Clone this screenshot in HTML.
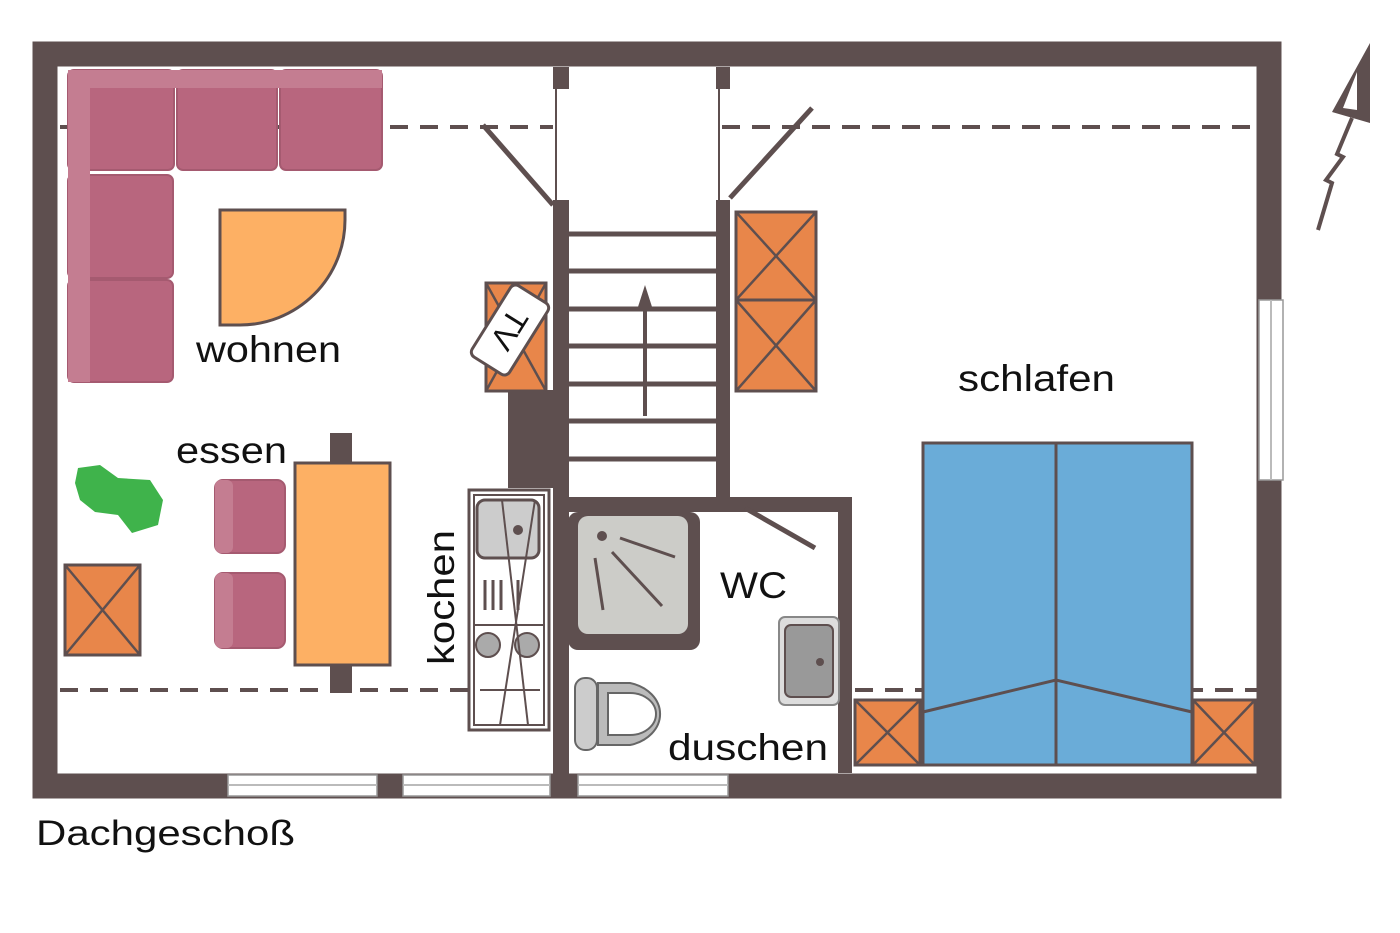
<!DOCTYPE html>
<html><head><meta charset="utf-8"><style>
html,body{margin:0;padding:0;background:#fff;}
svg{display:block;}
text{font-family:"Liberation Sans",sans-serif;fill:#111;}
</style></head><body>
<svg width="1400" height="933" viewBox="0 0 1400 933" xmlns="http://www.w3.org/2000/svg">
<!-- outer walls -->
<rect x="45" y="54" width="1224" height="732" fill="none" stroke="#5e4f4f" stroke-width="25"/>
<!-- bottom windows -->
<g fill="#fff" stroke="#999" stroke-width="1.5">
<rect x="228" y="775" width="149" height="21"/>
<rect x="403" y="775" width="147" height="21"/>
<rect x="578" y="775" width="150" height="21"/>
</g>
<g stroke="#bbb" stroke-width="2"><line x1="228" y1="785" x2="377" y2="785"/><line x1="403" y1="785" x2="550" y2="785"/><line x1="578" y1="785" x2="728" y2="785"/></g>
<!-- right window -->
<rect x="1259" y="300" width="24" height="180" fill="#fff" stroke="#999" stroke-width="1.5"/>
<line x1="1271" y1="300" x2="1271" y2="480" stroke="#bbb" stroke-width="2"/>
<!-- dashed lines -->
<g stroke="#5e4f4f" stroke-width="4" stroke-dasharray="18,12">
<line x1="60" y1="127" x2="553" y2="127"/>
<line x1="722" y1="127" x2="1257" y2="127"/>
<line x1="60" y1="690" x2="468" y2="690"/>
<line x1="855" y1="690" x2="1257" y2="690"/>
</g>
<!-- stair walls -->
<g fill="#5e4f4f">
<rect x="553" y="67" width="16" height="22"/>
<rect x="716" y="67" width="14" height="22"/>
<rect x="553" y="200" width="16" height="598"/>
<rect x="716" y="200" width="14" height="297"/>
<rect x="508" y="390" width="46" height="98"/>
<rect x="553" y="497" width="299" height="15"/>
<rect x="838" y="497" width="14" height="276"/>
</g>
<g stroke="#5e4f4f" stroke-width="2"><line x1="556" y1="89" x2="556" y2="200"/><line x1="719" y1="89" x2="719" y2="200"/></g>
<!-- door swings -->
<g stroke="#5e4f4f" stroke-width="5">
<line x1="483" y1="125" x2="553" y2="205"/>
<line x1="812" y1="108" x2="730" y2="198"/>
<line x1="745" y1="508" x2="815" y2="548"/>
</g>
<!-- stair treads -->
<g stroke="#5e4f4f" stroke-width="5">
<line x1="569" y1="234" x2="716" y2="234"/>
<line x1="569" y1="271" x2="716" y2="271"/>
<line x1="569" y1="309" x2="716" y2="309"/>
<line x1="569" y1="346" x2="716" y2="346"/>
<line x1="569" y1="384" x2="716" y2="384"/>
<line x1="569" y1="421" x2="716" y2="421"/>
<line x1="569" y1="459" x2="716" y2="459"/>
</g>
<line x1="645" y1="416" x2="645" y2="298" stroke="#5e4f4f" stroke-width="4"/>
<polygon points="645,285 637,310 653,310" fill="#5e4f4f"/>
<!-- orange boxes -->
<g fill="#e8864a" stroke="#5e4f4f" stroke-width="3">
<rect x="736" y="212" width="80" height="88"/>
<rect x="736" y="300" width="80" height="91"/>
<rect x="486" y="283" width="60" height="108"/>
<rect x="65" y="565" width="75" height="90"/>
<rect x="855" y="700" width="65" height="65"/>
<rect x="1193" y="700" width="62" height="65"/>
</g>
<g stroke="#5e4f4f" stroke-width="2.5">
<line x1="736" y1="212" x2="816" y2="300"/><line x1="816" y1="212" x2="736" y2="300"/>
<line x1="736" y1="300" x2="816" y2="391"/><line x1="816" y1="300" x2="736" y2="391"/>
<line x1="486" y1="283" x2="546" y2="391"/><line x1="546" y1="283" x2="486" y2="391"/>
<line x1="65" y1="565" x2="140" y2="655"/><line x1="140" y1="565" x2="65" y2="655"/>
<line x1="855" y1="700" x2="920" y2="765"/><line x1="920" y1="700" x2="855" y2="765"/>
<line x1="1193" y1="700" x2="1255" y2="765"/><line x1="1255" y1="700" x2="1193" y2="765"/>
</g>
<!-- TV -->
<g transform="translate(510,330) rotate(-58)">
<rect x="-42" y="-22" width="84" height="44" rx="6" fill="#fff" stroke="#5e4f4f" stroke-width="3"/>
<text x="0" y="12" font-size="32" text-anchor="middle" transform="rotate(180)">TV</text>
</g>
<!-- sofas -->
<g fill="#b8667e" stroke="#a55a70" stroke-width="2">
<rect x="68" y="70" width="106" height="100" rx="6"/>
<rect x="177" y="70" width="100" height="100" rx="6"/>
<rect x="280" y="70" width="102" height="100" rx="6"/>
<rect x="68" y="175" width="105" height="103" rx="6"/>
<rect x="68" y="280" width="105" height="102" rx="6"/>
<rect x="215" y="480" width="70" height="73" rx="8"/>
<rect x="215" y="573" width="70" height="75" rx="8"/>
</g>
<g fill="#c47d91"><rect x="68" y="70" width="314" height="18"/><rect x="68" y="70" width="22" height="312"/><rect x="215" y="480" width="18" height="73" rx="6"/><rect x="215" y="573" width="18" height="75" rx="6"/></g>
<!-- door quarter -->
<path d="M220,210 L345,210 L345,220 A105,105 0 0 1 240,325 L220,325 Z" fill="#fdb064" stroke="#5e4f4f" stroke-width="3"/>
<!-- table -->
<rect x="330" y="433" width="22" height="260" fill="#5e4f4f"/>
<rect x="295" y="463" width="95" height="202" fill="#fdb064" stroke="#5e4f4f" stroke-width="3"/>
<!-- plant -->
<path d="M78,468 L100,465 L118,478 L150,480 L163,500 L158,525 L132,533 L118,515 L95,512 L80,500 L75,483 Z" fill="#3fb34b"/>
<!-- kitchen -->
<rect x="469" y="490" width="80" height="240" fill="#fff" stroke="#5e4f4f" stroke-width="3"/>
<rect x="474" y="495" width="70" height="230" fill="none" stroke="#5e4f4f" stroke-width="2"/>
<rect x="477" y="500" width="62" height="58" rx="8" fill="#ccc" stroke="#5e4f4f" stroke-width="3"/>
<line x1="474" y1="625" x2="544" y2="625" stroke="#5e4f4f" stroke-width="2"/>
<g stroke="#5e4f4f" stroke-width="3"><line x1="485" y1="580" x2="485" y2="610"/><line x1="493" y1="580" x2="493" y2="610"/><line x1="501" y1="580" x2="501" y2="610"/><line x1="518" y1="580" x2="518" y2="610"/></g>
<circle cx="488" cy="645" r="12" fill="#aaa" stroke="#5e4f4f" stroke-width="2"/>
<circle cx="527" cy="645" r="12" fill="#aaa" stroke="#5e4f4f" stroke-width="2"/>
<g stroke="#5e4f4f" stroke-width="2"><line x1="502" y1="500" x2="528" y2="725"/><line x1="535" y1="500" x2="500" y2="725"/><line x1="480" y1="690" x2="540" y2="690"/></g>
<circle cx="518" cy="530" r="5" fill="#5e4f4f"/>
<!-- shower -->
<rect x="568" y="512" width="132" height="138" rx="10" fill="#5e4f4f"/>
<rect x="578" y="516" width="110" height="118" rx="10" fill="#ccccc8"/>
<circle cx="602" cy="536" r="5" fill="#5e4f4f"/>
<g stroke="#5e4f4f" stroke-width="3"><line x1="620" y1="538" x2="675" y2="557"/><line x1="612" y1="552" x2="662" y2="606"/><line x1="595" y1="558" x2="603" y2="610"/></g>
<!-- WC sink -->
<rect x="779" y="617" width="60" height="88" rx="6" fill="#ddd" stroke="#888" stroke-width="2"/>
<rect x="785" y="625" width="48" height="72" rx="6" fill="#999" stroke="#5e4f4f" stroke-width="2"/>
<circle cx="820" cy="662" r="4" fill="#5e4f4f"/>
<!-- toilet -->
<rect x="575" y="678" width="22" height="72" rx="10" fill="#ccc" stroke="#666" stroke-width="2"/>
<path d="M598,683 L630,683 A40,32 0 0 1 630,745 L598,745 Z" fill="#bbb" stroke="#666" stroke-width="2"/>
<path d="M608,693 L630,693 A26,21 0 0 1 630,735 L608,735 Z" fill="#fff" stroke="#666" stroke-width="2"/>
<!-- bed -->
<rect x="923" y="443" width="269" height="322" fill="#6aacd8" stroke="#5e4f4f" stroke-width="3"/>
<line x1="1056" y1="443" x2="1056" y2="765" stroke="#5e4f4f" stroke-width="3"/>
<polyline points="923,712 1056,680 1192,712" fill="none" stroke="#5e4f4f" stroke-width="3"/>
<!-- north arrow -->
<polyline points="1318,230 1332,183 1326,180 1343,157 1337,154 1352,118" fill="none" stroke="#5e4f4f" stroke-width="4"/>
<polygon points="1370,43 1332,112 1370,123" fill="#5e4f4f"/>
<polygon points="1357,72 1343,108 1357,110" fill="#fff"/>
<!-- labels -->
<text x="196" y="362" font-size="37" textLength="145" lengthAdjust="spacingAndGlyphs">wohnen</text>
<text x="176" y="463" font-size="37" textLength="111" lengthAdjust="spacingAndGlyphs">essen</text>
<text x="958" y="391" font-size="37" textLength="157" lengthAdjust="spacingAndGlyphs">schlafen</text>
<text x="720" y="598" font-size="37" textLength="67" lengthAdjust="spacingAndGlyphs">WC</text>
<text x="668" y="760" font-size="37" textLength="160" lengthAdjust="spacingAndGlyphs">duschen</text>
<text transform="translate(454,665) rotate(-90)" font-size="37" textLength="135" lengthAdjust="spacingAndGlyphs">kochen</text>
<text x="36" y="845" font-size="35" textLength="259" lengthAdjust="spacingAndGlyphs">Dachgeschoß</text>
</svg>
</body></html>
